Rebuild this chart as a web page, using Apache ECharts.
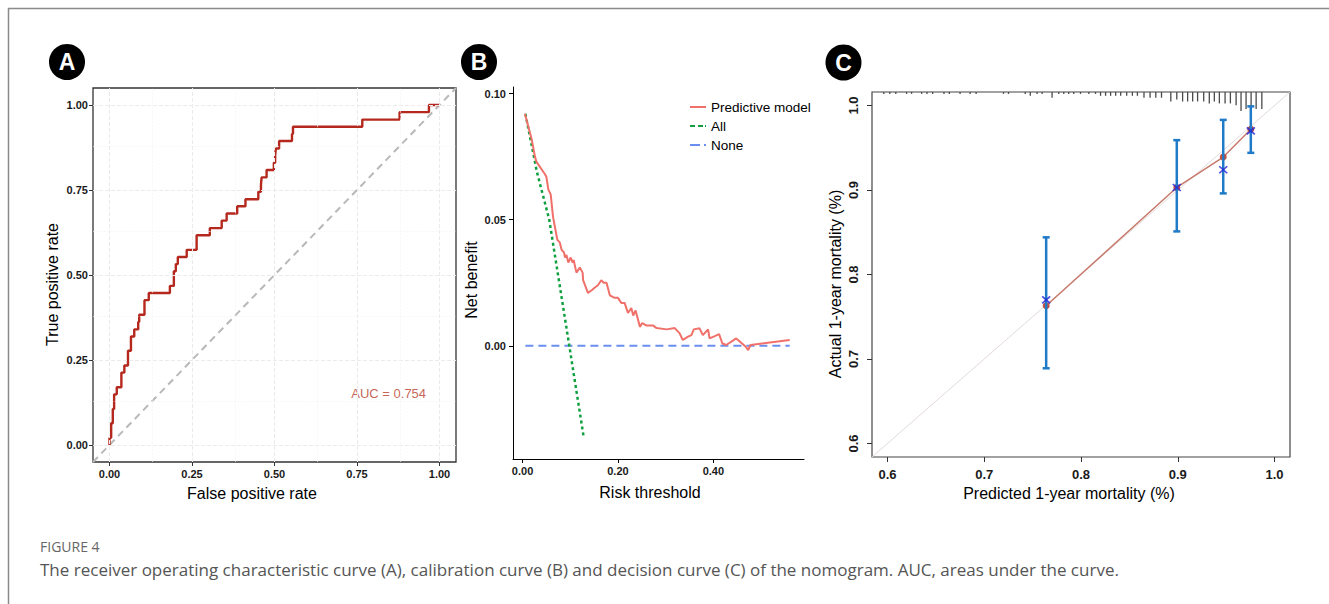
<!DOCTYPE html>
<html><head><meta charset="utf-8">
<script src="https://cdn.jsdelivr.net/npm/echarts@6/dist/echarts.min.js"></script>
<style>
html,body{margin:0;padding:0;background:#fff;}
#chart{width:1329px;height:604px;}
</style></head><body><div id="chart"></div>
<script>
// ---------- Panel A: ROC ----------
const rocFpr = [0, 0, 0.005, 0.010, 0.014, 0.022, 0.036, 0.045, 0.056, 0.065, 0.075, 0.087, 0.090, 0.106, 0.119, 0.183, 0.195, 0.201, 0.207, 0.234, 0.264, 0.304, 0.340, 0.355, 0.387, 0.412, 0.451, 0.459, 0.461, 0.476, 0.498, 0.502, 0.504, 0.514, 0.553, 0.556, 0.766, 0.879, 0.968, 1.0];
const rocTpr = [0, 0.021, 0.064, 0.106, 0.149, 0.170, 0.213, 0.234, 0.277, 0.319, 0.340, 0.362, 0.383, 0.426, 0.447, 0.468, 0.511, 0.532, 0.553, 0.574, 0.617, 0.638, 0.660, 0.681, 0.702, 0.723, 0.745, 0.766, 0.787, 0.809, 0.830, 0.851, 0.872, 0.894, 0.915, 0.936, 0.957, 0.979, 1.0, 1.0];
const rocTicks = [0, 0.25, 0.5, 0.75, 1];
const rocMinor = [0.125, 0.375, 0.625, 0.875];
const aucLabel = 'AUC = 0.754';
const aucPos = [0.846, 0.152];

// ---------- Panel B: decision curve ----------
const dcaThreshold = [0.005,0.019,0.026,0.029,0.047,0.050,0.054,0.059,0.064,0.068,0.073,0.078,0.082,0.087,0.089,0.092,0.096,0.101,0.105,0.107,0.113,0.120,0.126,0.127,0.133,0.137,0.145,0.151,0.158,0.165,0.170,0.176,0.183,0.193,0.200,0.207,0.214,0.221,0.228,0.232,0.237,0.246,0.251,0.260,0.274,0.281,0.302,0.319,0.329,0.336,0.347,0.354,0.359,0.371,0.378,0.389,0.392,0.403,0.412,0.419,0.427,0.448,0.468,0.473,0.478,0.560];
const dcaModel = [0.092,0.082,0.075,0.073,0.068,0.067,0.062,0.060,0.051,0.047,0.042,0.041,0.038,0.037,0.035,0.036,0.033,0.035,0.033,0.034,0.029,0.031,0.029,0.026,0.023,0.021,0.022,0.023,0.024,0.026,0.025,0.025,0.020,0.019,0.019,0.017,0.017,0.013,0.015,0.012,0.014,0.0075,0.009,0.008,0.008,0.007,0.0065,0.007,0.005,0.0023,0.0036,0.0042,0.0065,0.0069,0.0042,0.0065,0.0029,0.0038,0.0046,0.0009,0.0003,0.0029,-0.0004,-0.0017,0.0003,0.0023];
const dcaAllThreshold = [0.006, 0.030, 0.056, 0.098, 0.128];
const dcaAll = [0.092, 0.069, 0.050, 0.000, -0.036];
const dcaNoneThreshold = [0.006, 0.560];
const dcaNone = [0, 0];
const dcaXTicks = [0, 0.2, 0.4];
const dcaYTicks = [0, 0.05, 0.10];
const dcaNames = ['Predictive model', 'All', 'None'];

// ---------- Panel C: calibration ----------
const calPredicted = [0.764, 0.899, 0.947, 0.9755];
const calObserved  = [0.763, 0.903, 0.939, 0.972];
const calCorrected = [0.770, 0.903, 0.924, 0.970];
const calLower = [0.689, 0.851, 0.896, 0.944];
const calUpper = [0.844, 0.959, 0.983, 0.999];
const calTicks = [0.6, 0.7, 0.8, 0.9, 1.0];
const rugPredicted = [0.5962,0.6024,0.6086,0.6197,0.6249,0.6353,0.6408,0.6467,0.6584,0.6639,0.6750,0.6854,0.6916,0.7199,0.7251,
  0.7424,0.7476,0.7546,0.7598,0.7701,0.7770,0.7822,0.7873,0.7925,0.7995,0.8081,0.8150,0.8202,0.8254,0.8306,0.8358,0.8410,0.8472,0.8531,0.8583,
  0.8651,0.8714,0.8773,0.8832,0.8928,0.8990,0.9050,0.9102,0.9154,0.9205,0.9268,0.9326,0.9378,0.9430,0.9489,0.9544,0.9603,0.9654,0.9706,0.9758,0.9810,0.9869];
const rugFreq = [1,1,1,1,1,1,1,1,1,1,1,1,1,1,1,
  1,2,1,1,3,1,1,1,1,1,1,1,2,2,2,2,2,2,2,2,
  3,3,3,3,5,4,5,5,5,5,5,6,5,6,6,6,7,10,9,10,9,9];

const captionHead = 'FIGURE 4';
const captionText = 'The receiver operating characteristic curve (A), calibration curve (B) and decision curve (C) of the nomogram. AUC, areas under the curve.';

// ---------- build ----------
const FONT = 'Liberation Sans, Arial, sans-serif';
const zip = (a, b) => a.map((v, i) => [v, b[i]]);
const tickLbl = { fontFamily: FONT, fontWeight: 'bold', fontSize: 11, color: '#1a1a1a' };
const nameStyle = (pad) => ({ fontFamily: FONT, fontSize: 16, color: '#000', padding: pad });

const chart = echarts.init(document.getElementById('chart'), null, { renderer: 'svg' });

const gridLines = [];
rocTicks.forEach(v => { gridLines.push({ xAxis: v, lineStyle: { color: '#ebebeb', width: 1 } }); gridLines.push({ yAxis: v, lineStyle: { color: '#ebebeb', width: 1 } }); });
rocMinor.forEach(v => { gridLines.push({ xAxis: v, lineStyle: { color: '#f3f3f3', width: 0.6 } }); gridLines.push({ yAxis: v, lineStyle: { color: '#f3f3f3', width: 0.6 } }); });

const legendIcons = {
  'Predictive model': 'path://M0,0H16V2H0Z',
  'All': 'path://M0,0H5V2H0Z M8,0H13V2H8Z M15,0H16V2H15Z',
  'None': 'path://M0,0H10V2H0Z M14,0H16V2H14Z'
};

const option = {
  animation: false,
  backgroundColor: '#fff',
  textStyle: { fontFamily: FONT },
  grid: [
    { left: 93, top: 88, width: 363, height: 374, show: true, borderColor: '#333', borderWidth: 1.3, backgroundColor: '#fff' },
    { left: 513, top: 87, width: 291, height: 372, show: false },
    { left: 872, top: 92, width: 418, height: 365, show: true, borderColor: '#444', borderWidth: 1.2, backgroundColor: 'transparent' }
  ],
  xAxis: [
    { type: 'value', gridIndex: 0, min: -0.05, max: 1.05,
      axisLine: { show: false, onZero: false }, splitLine: { show: false },
      axisTick: { show: true, customValues: rocTicks, length: 4, lineStyle: { color: '#333' } },
      axisLabel: { customValues: rocTicks, formatter: v => v.toFixed(2), margin: 6, ...tickLbl },
      name: 'False positive rate', nameLocation: 'middle', nameGap: 23, nameTextStyle: nameStyle([0, 45, 0, 0]) },
    { type: 'value', gridIndex: 1, min: -0.02, max: 0.59,
      axisLine: { show: true, onZero: false, lineStyle: { color: '#000', width: 1 } }, splitLine: { show: false },
      axisTick: { show: true, customValues: dcaXTicks, length: 4, lineStyle: { color: '#000' } },
      axisLabel: { customValues: dcaXTicks, formatter: v => v.toFixed(2), margin: 6, ...tickLbl },
      name: 'Risk threshold', nameLocation: 'middle', nameGap: 25, nameTextStyle: nameStyle([0, 17, 0, 0]) },
    { type: 'value', gridIndex: 2, min: 0.584, max: 1.016,
      axisLine: { show: false, onZero: false }, splitLine: { show: false },
      axisTick: { show: true, customValues: calTicks, length: 5, lineStyle: { color: '#333' } },
      axisLabel: { customValues: calTicks, formatter: v => v.toFixed(1), margin: 11, ...tickLbl, fontSize: 13 },
      name: 'Predicted 1-year mortality (%)', nameLocation: 'middle', nameGap: 27, nameTextStyle: nameStyle([0, 24, 0, 0]) }
  ],
  yAxis: [
    { type: 'value', gridIndex: 0, min: -0.05, max: 1.05,
      axisLine: { show: false, onZero: false }, splitLine: { show: false },
      axisTick: { show: true, customValues: rocTicks, length: 4, lineStyle: { color: '#333' } },
      axisLabel: { customValues: rocTicks, formatter: v => v.toFixed(2), margin: 5, ...tickLbl },
      name: 'True positive rate', nameLocation: 'middle', nameGap: 33, nameTextStyle: nameStyle([0, 19, 0, 0]) },
    { type: 'value', gridIndex: 1, min: -0.0449, max: 0.1026,
      axisLine: { show: true, onZero: false, lineStyle: { color: '#000', width: 1 } }, splitLine: { show: false },
      axisTick: { show: true, customValues: dcaYTicks, length: 4, lineStyle: { color: '#000' } },
      axisLabel: { customValues: dcaYTicks, formatter: v => v.toFixed(2), margin: 7, ...tickLbl },
      name: 'Net benefit', nameLocation: 'middle', nameGap: 34, nameTextStyle: nameStyle([0, 14, 0, 0]) },
    { type: 'value', gridIndex: 2, min: 0.584, max: 1.016,
      axisLine: { show: false, onZero: false }, splitLine: { show: false },
      axisTick: { show: true, customValues: calTicks, length: 5, lineStyle: { color: '#333' } },
      axisLabel: { customValues: calTicks, formatter: v => v.toFixed(1), margin: 12, rotate: 90, ...tickLbl, fontSize: 13 },
      name: 'Actual 1-year mortality (%)', nameLocation: 'middle', nameGap: 29, nameTextStyle: nameStyle([0, 19, 0, 0]) }
  ],
  legend: {
    data: dcaNames.map(n => ({ name: n, icon: legendIcons[n] })),
    orient: 'vertical', left: 685, top: 95, itemWidth: 16, itemHeight: 2.5, itemGap: 5,
    textStyle: { fontFamily: FONT, fontSize: 13.5, color: '#000', lineHeight: 14 }, selectedMode: false
  },
  series: [
    // A gridlines
    { type: 'line', xAxisIndex: 0, yAxisIndex: 0, data: [[0, 0]], symbol: 'none', lineStyle: { opacity: 0 }, z: 1, silent: true,
      markLine: { silent: true, symbol: ['none', 'none'], label: { show: false }, animation: false, data: gridLines } },
    { type: 'line', xAxisIndex: 0, yAxisIndex: 0, data: [[-0.05, -0.05], [1.05, 1.05]], symbol: 'none', z: 2, silent: true,
      lineStyle: { color: '#b8b8b8', width: 2, type: [7, 5] } },
    { type: 'line', xAxisIndex: 0, yAxisIndex: 0, data: zip(rocFpr, rocTpr), step: 'end', symbol: 'none', z: 3,
      lineStyle: { color: '#b5281e', width: 2.4 } },
    { type: 'scatter', xAxisIndex: 0, yAxisIndex: 0, data: [aucPos], symbolSize: 0, z: 4,
      label: { show: true, position: 'inside', formatter: aucLabel, fontFamily: FONT, fontSize: 13, color: '#b83a2a' } },
    // B
    { name: 'None', type: 'line', xAxisIndex: 1, yAxisIndex: 1, data: zip(dcaNoneThreshold, dcaNone), symbol: 'none', z: 3,
      color: '#6a8ff0', lineStyle: { color: '#6a8ff0', width: 2, type: [8, 5] } },
    { name: 'All', type: 'line', xAxisIndex: 1, yAxisIndex: 1, data: zip(dcaAllThreshold, dcaAll), symbol: 'none', z: 4,
      color: '#10a040', lineStyle: { color: '#10a040', width: 2.5, type: [3, 3] } },
    { name: 'Predictive model', type: 'line', xAxisIndex: 1, yAxisIndex: 1, data: zip(dcaThreshold, dcaModel), symbol: 'none', z: 5,
      color: '#f0706a', lineStyle: { color: '#f0706a', width: 2 } },
    // C
    { type: 'line', xAxisIndex: 2, yAxisIndex: 2, data: [[0.584, 0.584], [1.016, 1.016]], symbol: 'none', z: 1, silent: true,
      lineStyle: { color: '#e3dada', width: 1 } },
    { type: 'custom', xAxisIndex: 2, yAxisIndex: 2, z: 2, silent: true,
      data: zip(rugPredicted, rugFreq),
      renderItem: (params, api) => {
        const maxF = Math.max(...rugFreq);
        const p = api.coord([api.value(0), 1]);
        const top = params.coordSys.y;
        const len = api.value(1) / maxF * 19;
        return { type: 'line', shape: { x1: p[0], y1: top, x2: p[0], y2: top + len }, style: { stroke: '#4a4a4a', lineWidth: 1.3 } };
      } },
    { type: 'line', xAxisIndex: 2, yAxisIndex: 2, data: zip(calPredicted, calObserved), z: 3,
      symbol: 'circle', symbolSize: 7, itemStyle: { color: '#c0503f' }, lineStyle: { color: '#c77a6c', width: 1.5 } },
    { type: 'custom', xAxisIndex: 2, yAxisIndex: 2, z: 4, silent: true,
      data: calPredicted.map((v, i) => [v, calLower[i], calUpper[i]]),
      renderItem: (params, api) => {
        const lo = api.coord([api.value(0), api.value(1)]);
        const hi = api.coord([api.value(0), api.value(2)]);
        const c = 3.5;
        const st = { stroke: '#1f7bc8', lineWidth: 2.5 };
        return { type: 'group', children: [
          { type: 'line', shape: { x1: lo[0], y1: lo[1], x2: hi[0], y2: hi[1] }, style: st },
          { type: 'line', shape: { x1: lo[0] - c, y1: lo[1], x2: lo[0] + c, y2: lo[1] }, style: st },
          { type: 'line', shape: { x1: hi[0] - c, y1: hi[1], x2: hi[0] + c, y2: hi[1] }, style: st }
        ] };
      } },
    { type: 'scatter', xAxisIndex: 2, yAxisIndex: 2, data: zip(calPredicted, calCorrected), z: 5,
      symbol: 'path://M0,0L10,10M10,0L0,10', symbolSize: [8, 7],
      itemStyle: { color: 'rgba(0,0,0,0)', borderColor: '#2424d8', borderWidth: 1.6 } }
  ],
  graphic: [
    { type: 'line', shape: { x1: 8, y1: 8.5, x2: 1329, y2: 8.5 }, style: { stroke: '#8a8a8a', lineWidth: 1.5 }, silent: true },
    { type: 'line', shape: { x1: 8.5, y1: 8, x2: 8.5, y2: 604 }, style: { stroke: '#8a8a8a', lineWidth: 1.5 }, silent: true },
    { type: 'circle', shape: { cx: 67, cy: 62, r: 18 }, style: { fill: '#000' } },
    { type: 'text', x: 67, y: 62, style: { text: 'A', fill: '#fff', font: 'bold 23px Liberation Sans, Arial', align: 'center', verticalAlign: 'middle' } },
    { type: 'circle', shape: { cx: 479, cy: 62, r: 18 }, style: { fill: '#000' } },
    { type: 'text', x: 479, y: 62, style: { text: 'B', fill: '#fff', font: 'bold 23px Liberation Sans, Arial', align: 'center', verticalAlign: 'middle' } },
    { type: 'circle', shape: { cx: 843.5, cy: 62.5, r: 18 }, style: { fill: '#000' } },
    { type: 'text', x: 843.5, y: 62.5, style: { text: 'C', fill: '#fff', font: 'bold 23px Liberation Sans, Arial', align: 'center', verticalAlign: 'middle' } },
    { type: 'text', x: 40, y: 546, style: { text: captionHead, fill: '#666', font: '14px Open Sans, sans-serif', verticalAlign: 'middle' } },
    { type: 'text', x: 40, y: 569, style: { text: captionText, fill: '#555', font: '17px Open Sans, sans-serif', verticalAlign: 'middle' } }
  ]
};
chart.setOption(option);
</script></body></html>
